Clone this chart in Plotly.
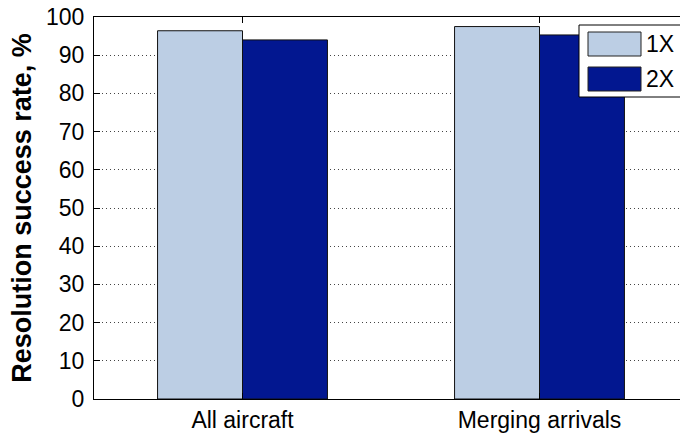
import plotly.graph_objects as go

categories = ["All aircraft", "Merging arrivals"]
series_names = ["1X", "2X"]
values_1x = [96.4, 97.5]
values_2x = [94.0, 95.3]
colors = ["#bccee4", "#021790"]
y_ticks = [0, 10, 20, 30, 40, 50, 60, 70, 80, 90, 100]

FONT = "Liberation Sans, Arial, sans-serif"

fig = go.Figure()
for name, vals, col in zip(series_names, [values_1x, values_2x], colors):
    fig.add_trace(go.Bar(
        x=categories, y=vals, name=name,
        marker=dict(color=col, line=dict(color="#111111", width=1)),
        showlegend=False, hoverinfo="skip",
    ))

W, H = 680, 433
L, R, T, B = 94, 0, 17, 34
pw = W - L - R
ph = H - T - B

def px(x):
    return (x - L) / pw

def py(y):
    return (H - B - y) / ph

fig.update_layout(
    width=W, height=H,
    margin=dict(l=L, r=R, t=T, b=B, pad=0, autoexpand=False),
    paper_bgcolor="white", plot_bgcolor="white",
    barmode="group", bargap=0.428, bargroupgap=0,
    font=dict(family=FONT, color="black", size=22),
    xaxis=dict(
        type="category", range=[-0.5, -0.5 + 586 / 297], automargin=False,
        showline=True, linecolor="black", linewidth=1, mirror="ticks",
        ticks="inside", ticklen=6, tickcolor="black",
        showgrid=False, zeroline=False,
        tickfont=dict(size=23, family=FONT, color="black"),
        ticklabelstandoff=0,
    ),
    yaxis=dict(
        range=[0, 100], tickvals=y_ticks, automargin=False,
        showline=True, linecolor="black", linewidth=1, mirror=False,
        ticks="inside", ticklen=6, tickcolor="black",
        showgrid=True, gridcolor="#444444", gridwidth=1, griddash="1px,3px",
        zeroline=False,
        tickfont=dict(size=23, family=FONT, color="black"),
        ticklabelstandoff=4,
        title=dict(text="<b>Resolution success rate, %</b>",
                   font=dict(size=27, family=FONT, color="black"), standoff=6),
    ),
)

# custom legend (MATLAB style)
shapes = [dict(type="rect", xref="paper", yref="paper",
               x0=px(579), x1=px(700), y0=py(97), y1=py(25),
               line=dict(color="black", width=1), fillcolor="white", layer="above")]
annotations = []
for i, (name, col) in enumerate(zip(series_names, colors)):
    top = 32 + i * 35
    shapes.append(dict(type="rect", xref="paper", yref="paper",
                       x0=px(588), x1=px(641), y0=py(top + 24), y1=py(top),
                       line=dict(color="#222222", width=1), fillcolor=col, layer="above"))
    annotations.append(dict(xref="paper", yref="paper", x=px(644), y=py(top + 12),
                            text=name, showarrow=False, xanchor="left", yanchor="middle",
                            font=dict(size=23, family=FONT, color="black")))
fig.update_layout(shapes=shapes, annotations=annotations, hovermode=False)

fig.write_html(
    "out.html",
    config={"displayModeBar": False, "staticPlot": True},
    post_script="document.body.style.margin='0';document.body.style.overflow='hidden';",
)
